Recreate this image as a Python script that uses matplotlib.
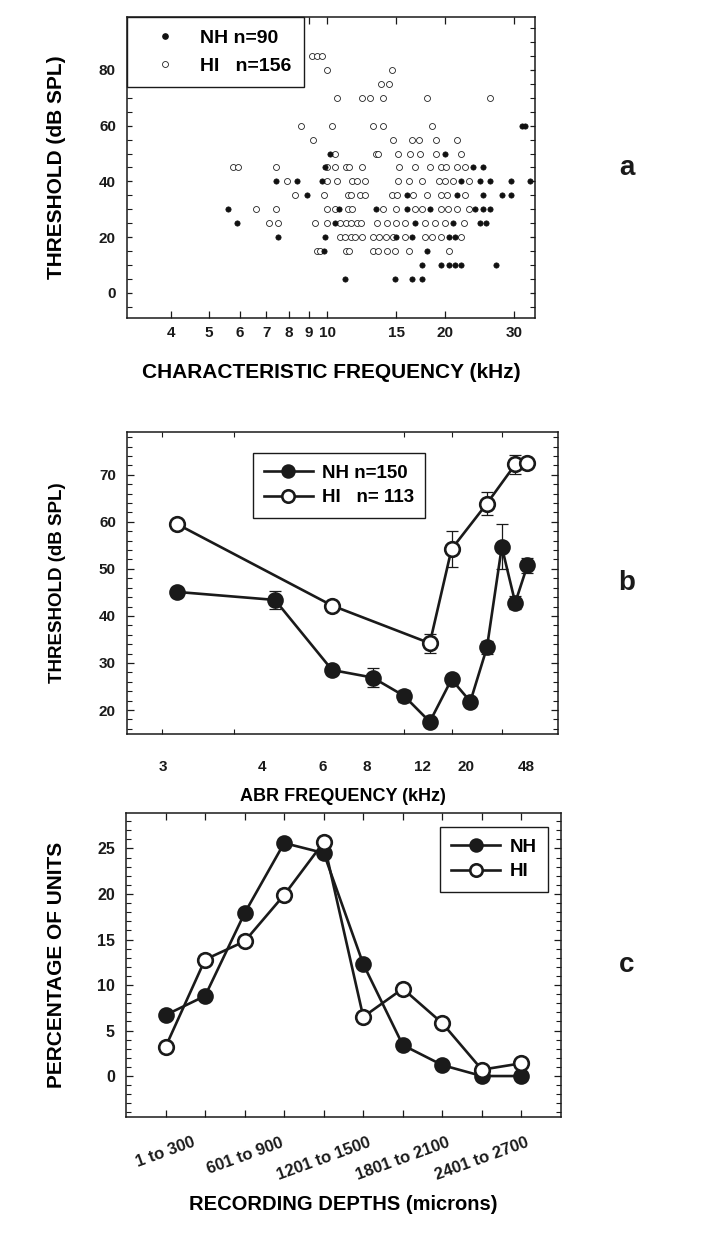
import numpy as np
import matplotlib
matplotlib.use("Agg")
import matplotlib.pyplot as plt
from matplotlib.ticker import FixedLocator, MultipleLocator, NullLocator, FixedFormatter, NullFormatter
import matplotlib.transforms as mtransforms
from matplotlib.lines import Line2D

plt.rcParams['font.family'] = ['Liberation Sans', 'DejaVu Sans']
plt.rcParams['font.weight'] = 'bold'

# ---------------- Panel a data: CF vs threshold ----------------
nh_freq = [31.5, 32.0,
           10.2, 20.0,
           9.9, 23.5, 25.0,
           7.4, 8.4, 9.7, 22.0, 24.5, 26.0, 29.5, 33.0,
           8.9, 16.0, 21.5, 25.0, 28.0, 29.5,
           5.6, 10.7, 13.3, 16.0, 18.3, 23.8, 25.0, 26.0,
           5.9, 10.5, 16.8, 21.0, 24.5, 25.5,
           7.5, 9.9, 15.0, 16.5, 20.5, 21.2,
           9.8, 18.0,
           17.5, 19.5, 20.5, 21.2, 22.0, 27.0,
           11.1, 14.9, 16.5, 17.5]
nh_thresh = [60, 60,
             50, 50,
             45, 45, 45,
             40, 40, 40, 40, 40, 40, 40, 40,
             35, 35, 35, 35, 35, 35,
             30, 30, 30, 30, 30, 30, 30, 30,
             25, 25, 25, 25, 25, 25,
             20, 20, 20, 20, 20, 20,
             15, 15,
             10, 10, 10, 10, 10, 10,
             5, 5, 5, 5]

hi_freq = [9.15, 9.4, 9.7,
           10.0, 14.6,
           13.7, 14.4,
           10.6, 12.3, 12.9, 13.9, 18.0, 26.0,
           8.6, 10.3, 13.1, 13.9, 18.5,
           9.2, 14.7, 16.5, 17.2, 19.0, 21.5,
           10.5, 13.3, 13.5, 15.2, 16.3, 17.3, 19.0, 22.0,
           5.77, 5.93, 7.4, 10.0, 10.5, 11.2, 11.4, 12.3, 15.3, 16.8, 18.3, 19.5, 20.1, 21.5, 22.5,
           7.9, 10.0, 10.6, 11.6, 11.9, 12.5, 15.2, 16.2, 17.5, 19.3, 20.0, 21.0, 23.0,
           8.3, 9.8, 11.3, 11.5, 12.1, 12.5, 14.6, 15.1, 16.6, 18.0, 19.5, 20.2, 22.5,
           6.6, 7.4, 10.0, 10.5, 11.3, 11.6, 13.9, 15.0, 16.8, 17.5, 19.5, 20.3, 21.5, 23.0,
           7.1, 7.5, 9.3, 10.0, 10.8, 11.2, 11.5, 11.9, 12.2, 13.4, 14.2, 15.0, 15.8, 17.8, 18.8, 20.0, 22.3,
           10.8, 11.1, 11.5, 11.8, 12.3, 13.1, 13.6, 14.1, 14.7, 15.8, 17.8, 18.5, 19.5, 22.0,
           9.4, 9.6, 11.2, 11.4, 13.1, 13.5, 14.2, 14.9, 16.2, 20.5]
hi_thresh = ([85] * 3 + [80] * 2 + [75] * 2 + [70] * 6 + [60] * 5 + [55] * 6 + [50] * 8 +
             [45] * 15 + [40] * 13 + [35] * 13 + [30] * 14 + [25] * 17 + [20] * 14 + [15] * 10)

cf_ticks = [4, 5, 6, 7, 8, 9, 10, 15, 20, 30]
thr_ticks_a = [0, 20, 40, 60, 80]

# ---------------- Panel b data: ABR thresholds ----------------
abr_freqs = [3, 4, 6, 8, 10, 12, 16, 20, 24, 32, 40, 48]
nh_abr = [45.1, 43.4, 28.5, 26.9, 23.0, 17.5, 26.5, 21.8, 33.3, 54.7, 42.8, 50.8]
nh_abr_err = [1.0, 2.0, 1.0, 2.0, 1.2, 0.8, 1.2, 0.8, 1.3, 4.8, 1.4, 1.6]
hi_abr_freqs = [3, 6, 12, 16, 24, 40, 48]
hi_abr = [59.5, 42.2, 34.2, 54.2, 63.9, 72.2, 72.5]
hi_abr_err = [0.8, 0.8, 2.0, 3.9, 2.4, 2.0, 0.6]
abr_label_freqs = [3, 4, 6, 8, 12, 20, 48]

# ---------------- Panel c data: recording depths ----------------
depth_bins = ["1 to 300", "301 to 600", "601 to 900", "901 to 1200", "1201 to 1500",
              "1501 to 1800", "1801 to 2100", "2101 to 2400", "2401 to 2700", "2701 to 3000"]
nh_pct = [6.7, 8.8, 17.9, 25.6, 24.5, 12.3, 3.4, 1.2, 0.0, 0.0]
hi_pct = [3.2, 12.8, 14.8, 19.9, 25.7, 6.5, 9.6, 5.8, 0.7, 1.4]

# ---------------- Figure ----------------
W, H = 721, 1234
fig = plt.figure(figsize=(W / 100, H / 100), dpi=100)


def px_axes(l, r, t, b):
    return fig.add_axes([l / W, 1 - b / H, (r - l) / W, (b - t) / H])


def style_axes(ax, lw=1.1):
    for s in ax.spines.values():
        s.set_linewidth(lw)
        s.set_color('#1a1a1a')
    ax.tick_params(which='both', direction='in', top=True, right=True, colors='#1a1a1a',
                   labelcolor='#1a1a1a')
    ax.tick_params(which='major', length=5, width=0.9)
    ax.tick_params(which='minor', length=3.5, width=0.8)


# ===== Panel a =====
axa = px_axes(127, 535, 17, 318)
axa.set_xscale('log')
axa.plot(nh_freq, nh_thresh, 'o', ms=3.8, mfc='#111111', mec='#111111', mew=0.5, ls='none', zorder=3)
axa.plot(hi_freq, hi_thresh, 'o', ms=4.3, mfc='white', mec='#222222', mew=0.6, ls='none', zorder=2)
axa.set_xlim(3.09, 33.9)
axa.set_ylim(-9, 99)
style_axes(axa)
axa.xaxis.set_major_locator(FixedLocator(cf_ticks))
axa.xaxis.set_major_formatter(FixedFormatter([str(v) for v in cf_ticks]))
axa.xaxis.set_minor_locator(NullLocator())
axa.yaxis.set_major_locator(FixedLocator(thr_ticks_a))
axa.yaxis.set_minor_locator(MultipleLocator(5))
axa.tick_params(axis='both', which='major', labelsize=11)
axa.tick_params(axis='x', which='major', pad=6)
axa.tick_params(axis='y', which='major', pad=8, length=3.5)
axa.set_ylabel('THRESHOLD (dB SPL)', fontsize=15, fontweight='bold')
axa.yaxis.set_label_coords(-0.150, 0.5)
axa.set_xlabel('CHARACTERISTIC FREQUENCY (kHz)', fontsize=15, fontweight='bold')
axa.xaxis.set_label_coords(0.5, -0.150)
leg_a = axa.legend(handles=[
    Line2D([], [], marker='o', ls='none', ms=3.8, mfc='#111111', mec='#111111'),
    Line2D([], [], marker='o', ls='none', ms=4.3, mfc='white', mec='#222222', mew=0.6)],
    labels=['NH n=90', 'HI   n=156'], loc='upper left', bbox_to_anchor=(0, 1),
    borderaxespad=0, fancybox=False, edgecolor='#1a1a1a', framealpha=1,
    prop={'size': 14, 'weight': 'bold'}, handlelength=2.6, handletextpad=0.5,
    borderpad=0.65, labelspacing=0.5)
leg_a.get_frame().set_linewidth(1.0)

# ===== Panel b =====
axb = px_axes(127, 558, 432, 734)
axb.set_xscale('log')
pos_nh = np.arange(1, len(abr_freqs) + 1)
pos_hi = np.array([abr_freqs.index(f) + 1 for f in hi_abr_freqs])
axb.errorbar(pos_nh, nh_abr, yerr=nh_abr_err, fmt='none', ecolor='#1a1a1a', elinewidth=0.9,
             capsize=4.5, capthick=0.9, zorder=2)
axb.errorbar(pos_hi, hi_abr, yerr=hi_abr_err, fmt='none', ecolor='#1a1a1a', elinewidth=0.9,
             capsize=4.5, capthick=0.9, zorder=2)
axb.plot(pos_hi, hi_abr, '-o', color='#1a1a1a', lw=1.9, ms=10.5, mfc='white', mec='#1a1a1a',
         mew=1.9, zorder=3, label='HI   n= 113')
axb.plot(pos_nh, nh_abr, '-o', color='#1a1a1a', lw=1.9, ms=10.5, mfc='#1a1a1a', mec='#1a1a1a',
         mew=1.5, zorder=4, label='NH n=150')
axb.set_xlim(0.70, 14.9)
axb.set_ylim(14.9, 79.1)
style_axes(axb)
lab_pos = [abr_freqs.index(f) + 1 for f in abr_label_freqs]
axb.xaxis.set_major_locator(FixedLocator(lab_pos))
axb.xaxis.set_major_formatter(FixedFormatter([str(f) for f in abr_label_freqs]))
axb.xaxis.set_minor_locator(FixedLocator([0.9, 1, 1.5, 3, 4, 5, 7, 10]))
axb.xaxis.set_minor_formatter(NullFormatter())
axb.tick_params(axis='x', which='major', length=0, pad=19, labelsize=11)
axb.yaxis.set_major_locator(MultipleLocator(10))
axb.yaxis.set_minor_locator(MultipleLocator(2))
axb.tick_params(axis='y', which='major', labelsize=11, pad=8)
label_shift_px = [-14, -13, -9, -6, -7, -4, -1]
for lbl, dx in zip(axb.get_xticklabels(), label_shift_px):
    lbl.set_transform(lbl.get_transform() + mtransforms.ScaledTranslation(dx / 100, 0, fig.dpi_scale_trans))
axb.set_ylabel('THRESHOLD (dB SPL)', fontsize=13.5, fontweight='bold')
axb.yaxis.set_label_coords(-0.142, 0.5)
axb.set_xlabel('ABR FREQUENCY (kHz)', fontsize=13, fontweight='bold')
axb.xaxis.set_label_coords(0.5, -0.180)
hb, lb = axb.get_legend_handles_labels()
leg_b = axb.legend(hb[::-1], lb[::-1], loc='upper left', bbox_to_anchor=(0.2917, 0.9295),
                   borderaxespad=0, fancybox=False, edgecolor='#1a1a1a', framealpha=1,
                   prop={'size': 13.5, 'weight': 'bold'}, handlelength=2.6, handletextpad=0.5,
                   borderpad=0.6, labelspacing=0.4, markerscale=0.85)
leg_b.get_frame().set_linewidth(1.0)

# ===== Panel c =====
axc = px_axes(126, 561, 813, 1117)
xc = np.arange(len(depth_bins))
axc.plot(xc, nh_pct, '-o', color='#1a1a1a', lw=1.9, ms=10.5, mfc='#1a1a1a', mec='#1a1a1a',
         mew=1.5, zorder=3, label='NH')
axc.plot(xc, hi_pct, '-o', color='#1a1a1a', lw=1.9, ms=10.5, mfc='white', mec='#1a1a1a',
         mew=1.9, zorder=4, label='HI')
axc.set_xlim(-1.0, 10.0)
axc.set_ylim(-4.5, 28.9)
style_axes(axc)
axc.set_xticks(xc)
axc.set_xticklabels([lab if i % 2 == 0 else '' for i, lab in enumerate(depth_bins)],
                    rotation=20, ha='center', fontsize=12)
axc.tick_params(axis='x', which='major', pad=13)
axc.yaxis.set_major_locator(MultipleLocator(5))
axc.yaxis.set_minor_locator(MultipleLocator(1))
axc.tick_params(axis='y', which='major', labelsize=11.5, pad=8)
axc.set_ylabel('PERCENTAGE OF UNITS', fontsize=15, fontweight='bold')
axc.yaxis.set_label_coords(-0.138, 0.5)
axc.set_xlabel('RECORDING DEPTHS (microns)', fontsize=14.5, fontweight='bold')
axc.xaxis.set_label_coords(0.5, -0.258)
leg_c = axc.legend(loc='upper left', bbox_to_anchor=(0.7218, 0.953), borderaxespad=0,
                   fancybox=False, edgecolor='#1a1a1a', framealpha=1,
                   prop={'size': 13.5, 'weight': 'bold'}, handlelength=2.6, handletextpad=0.5,
                   borderpad=0.6, labelspacing=0.4, markerscale=0.85)
leg_c.get_frame().set_linewidth(1.0)

# panel letters
for letter, yc in (('a', 168), ('b', 583), ('c', 965)):
    fig.text(627 / W, 1 - yc / H, letter, fontsize=20, fontweight='bold', ha='center', va='center',
             color='#1a1a1a')

fig.savefig('out.png', dpi=100, facecolor='white')
